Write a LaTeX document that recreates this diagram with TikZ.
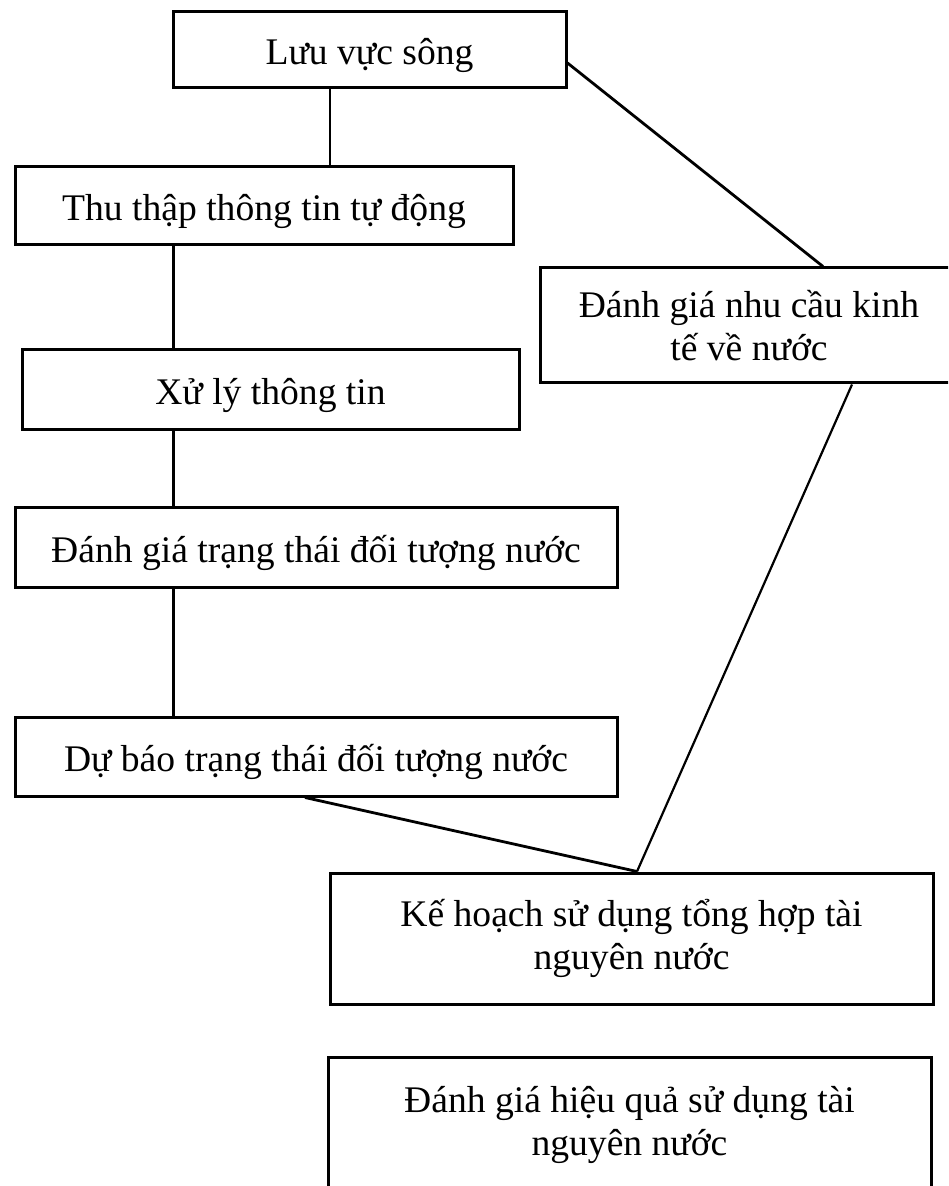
\documentclass[tikz,border=0pt]{standalone}
\usepackage{fontspec}
\setmainfont{Liberation Serif}
\begin{document}
\begin{tikzpicture}[x=0.5pt,y=-0.5pt,
  txt/.style={inner sep=0pt, align=center, font=\fontsize{18.8}{21.5}\selectfont},
  box/.style={txt, draw, line width=1.5pt},
  single/.style={text height=19pt, text depth=4pt},
  conn/.style={line width=1.1pt},
  thin/.style={line width=0.6pt},
  thick/.style={line width=1.4pt}]
\useasboundingbox (0,0) rectangle (948,1186);
\fill[white] (0,0) rectangle (948,1186);
\begin{scope}
\clip (0,0) rectangle (948,1186);
\node[box, single, minimum width=196.5pt, minimum height=38pt] (b1) at (369.5,50) {Lưu vực sông};
\node[box, single, minimum width=249pt, minimum height=39pt] (b2) at (264,206) {Thu thập thông tin tự động};
\node[box, single, minimum width=248.5pt, minimum height=40pt] (b3) at (270.5,390) {Xử lý thông tin};
\node[box, single, minimum width=301pt, minimum height=40pt] (b4) at (316,547) {Đánh giá trạng thái đối tượng nước};
\node[box, single, minimum width=301pt, minimum height=39.5pt] (b5) at (316,756.5) {Dự báo trạng thái đối tượng nước};
\node[box, minimum width=300pt, minimum height=57.5pt] (b6) at (840,325.5) {};
\node[txt] (b6t) at (749,325.5) {Đánh giá nhu cầu kinh\\tế về nước};
\node[box, minimum width=301.5pt, minimum height=65.5pt] (b7) at (631.5,938.5) {Kế hoạch sử dụng tổng hợp tài\\nguyên nước};
\node[box, minimum width=301.5pt, minimum height=67.5pt] (b8) at (629.5,1124.5) {Đánh giá hiệu quả sử dụng tài\\nguyên nước};
\end{scope}
\draw[thin] (b1.south -| 330,0) -- (b2.north -| 330,0);
\draw[conn] (b2.south -| 173.5,0) -- (b3.north -| 173.5,0);
\draw[conn] (b3.south -| 173.5,0) -- (b4.north -| 173.5,0);
\draw[conn] (b4.south -| 173.5,0) -- (b5.north -| 173.5,0);
\draw[thick] (b1.east |- 0,63) -- (b6.north -| 823,0);
\draw[conn] (b6.south -| 852,0) -- (b7.north -| 637,0);
\draw[thick] (b5.south -| 305,0) -- (b7.north -| 637,0);
\end{tikzpicture}
\end{document}
